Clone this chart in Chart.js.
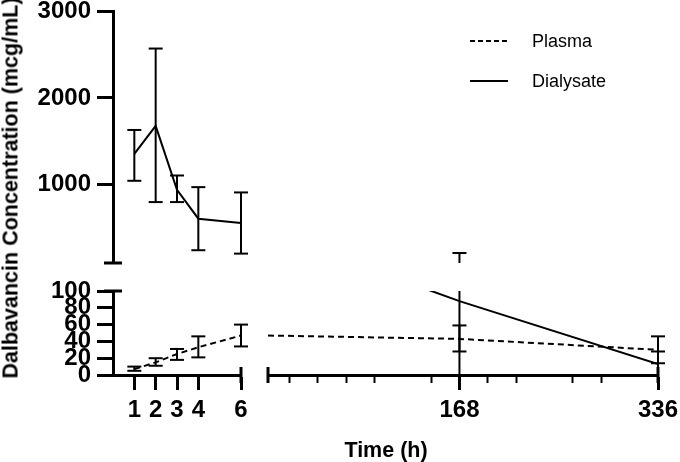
<!DOCTYPE html>
<html>
<head>
<meta charset="utf-8">
<script src="https://cdn.jsdelivr.net/npm/chart.js@4.4.1/dist/chart.umd.min.js"></script>
<style>
  html, body { margin: 0; padding: 0; background: #fff; overflow: hidden; }
  #wrap { position: relative; width: 680px; height: 462px; font-family: "Liberation Sans", Arial, sans-serif; color: #000; }
  #wrap canvas { position: absolute; }
  .title { position: absolute; font-weight: bold; font-size: 21.5px; white-space: nowrap; }
  #ytitle { left: 11px; top: 188px; transform: translate(-50%, -50%) rotate(-90deg); }
  #xtitle { left: 386px; top: 450px; transform: translate(-50%, -50%); }
  .leg { position: absolute; left: 470px; font-size: 18px; display: flex; align-items: center; height: 24px; }
  .leg .ln { width: 38px; height: 2px; margin-right: 24px; }
  .dash { background: repeating-linear-gradient(to right, #000 0 5px, transparent 5px 8px); }
  .solid { background: #000; }
</style>
</head>
<body>
<div id="wrap">
  <canvas id="upLeft"></canvas>
  <canvas id="lowLeft"></canvas>
  <canvas id="upRight"></canvas>
  <canvas id="lowRight"></canvas>
  <div class="title" id="ytitle">Dalbavancin Concentration (mcg/mL)</div>
  <div class="title" id="xtitle">Time (h)</div>
  <div class="leg" style="top:29px"><div class="ln dash"></div>Plasma</div>
  <div class="leg" style="top:69px"><div class="ln solid"></div>Dialysate</div>
</div>
<script>
// --- data ---
const hoursEarly = [1, 2, 3, 4, 6];
const hoursLate = [168, 336];

const plasmaEarly = [7, 15, 25, 33, 47];
const plasmaEarlyLow = [5, 11, 18, 21, 34];
const plasmaEarlyHigh = [10, 20, 31, 46, 60];
const plasmaLate = [43, 30];
const plasmaLateLow = [28, 14];
const plasmaLateHigh = [59, 46];

const dialysateEarly = [1356, 1677, 943, 610, 560];
const dialysateEarlyLow = [1046, 801, 801, 247, 208];
const dialysateEarlyHigh = [1631, 2568, 1107, 973, 912];
const dialysateLate = [88, 13];
const dialysateLateLow = [-40, -2];
const dialysateLateHigh = [215, 28];
// level the dialysate line carries across the x break (as drawn)
const dialysateBreakLevel = 170;

// axis ticks
const upperTicks = [1000, 2000, 3000];
const lowerTicks = [0, 20, 40, 60, 80, 100];
const earlyTicks = [1, 2, 3, 4, 6];
const lateTicks = [168, 336];
const lateMinorTicks = [24, 48, 72, 96, 144, 192, 216, 264, 288];

Chart.defaults.font.family = '"Liberation Sans", Arial, sans-serif';
Chart.defaults.color = '#000';

const M = 30;        // free margin round each plot area
const AXIS_W = 100;  // room for y tick labels
const AXIS_H = 60;   // room for x tick labels
const tickFont = { size: 24, weight: 'bold' };

function place(id, area, hasY, hasX) {
    const c = document.getElementById(id);
    const extraL = hasY ? AXIS_W : 0;
    const extraB = hasX ? AXIS_H : 0;
    c.width = area.right - area.left + 2 * M + extraL;
    c.height = area.bottom - area.top + 2 * M + extraB;
    c.style.left = (area.left - M - extraL) + 'px';
    c.style.top = (area.top - M) + 'px';
    return c.getContext('2d');
}

const fixSize = size => s => { if (s.isHorizontal()) s.height = size; else s.width = size; };
const useTicks = values => s => { s.ticks = values.map(v => ({ value: v })); };

function errorBars(xs, lows, highs) {
    const pts = [];
    xs.forEach((x, i) => pts.push({ x: x, y: lows[i] }, { x: x, y: highs[i] }, { x: x, y: null }));
    return pts;
}
const toPoints = (xs, ys) => xs.map((x, i) => ({ x: x, y: ys[i] }));

function errSet(data) {
    return {
        data: data, borderColor: '#000', borderWidth: 2, spanGaps: false,
        pointStyle: 'line', pointRadius: 7, pointBorderWidth: 2, pointBorderColor: '#000',
        clip: { left: 12, right: 12, top: 0, bottom: 0 }
    };
}
function lineSet(data, dashed) {
    return { data: data, borderColor: '#000', borderWidth: 2, pointRadius: 0, borderDash: dashed ? [6, 4] : [], tension: 0 };
}

// small caps drawn where the axes are broken
function breakCaps(cfg) {
    return {
        id: 'breakCaps',
        afterDraw(chart) {
            const ctx = chart.ctx, a = chart.chartArea;
            ctx.save();
            ctx.strokeStyle = '#000';
            ctx.lineWidth = 3;
            (cfg.y || []).forEach(v => {
                const py = chart.scales.y.getPixelForValue(v);
                ctx.beginPath(); ctx.moveTo(a.left - 9, py); ctx.lineTo(a.left + 9, py); ctx.stroke();
            });
            (cfg.x || []).forEach(v => {
                const px = chart.scales.x.getPixelForValue(v);
                ctx.beginPath(); ctx.moveTo(px, a.bottom - 8); ctx.lineTo(px, a.bottom + 8); ctx.stroke();
            });
            ctx.restore();
        }
    };
}

function axisY(min, max, ticks, show) {
    return {
        type: 'linear', min: min, max: max, display: show, afterFit: fixSize(show ? AXIS_W : 0), afterBuildTicks: useTicks(ticks),
        border: { color: '#000', width: 3 },
        grid: { drawOnChartArea: false, tickLength: 16, tickWidth: 3, tickColor: '#000' },
        ticks: { font: tickFont, padding: 6, autoSkip: false, callback: v => String(v) }
    };
}
function axisX(min, max, ticks, show) {
    return {
        type: 'linear', min: min, max: max, display: show, afterFit: fixSize(show ? AXIS_H : 0), afterBuildTicks: useTicks(ticks),
        border: { color: '#000', width: 3 },
        grid: { drawOnChartArea: false, tickLength: 15, tickWidth: 3, tickColor: '#000' },
        ticks: { font: tickFont, padding: 6, autoSkip: false, maxRotation: 0, callback: v => String(v) }
    };
}

function baseOptions(scales) {
    return {
        responsive: false, animation: false,
        layout: { padding: { left: M, right: M, top: M, bottom: M } },
        plugins: { legend: { display: false }, tooltip: { enabled: false } },
        scales: scales
    };
}

// upper left: dialysate, 1-6 h
new Chart(place('upLeft', { left: 113, top: 11, right: 241, bottom: 263 }, true, false), {
    type: 'line',
    data: { datasets: [
        lineSet(toPoints(hoursEarly, dialysateEarly), false),
        errSet(errorBars(hoursEarly, dialysateEarlyLow, dialysateEarlyHigh))
    ] },
    options: baseOptions({ x: axisX(0, 6, earlyTicks, false), y: axisY(100, 3000, upperTicks, true) }),
    plugins: [breakCaps({ y: [100] })]
});

// lower left: plasma, 1-6 h
new Chart(place('lowLeft', { left: 113, top: 291, right: 241, bottom: 375 }, true, true), {
    type: 'line',
    data: { datasets: [
        lineSet(toPoints(hoursEarly, plasmaEarly), true),
        errSet(errorBars(hoursEarly, plasmaEarlyLow, plasmaEarlyHigh))
    ] },
    options: baseOptions({ x: axisX(0, 6, earlyTicks, true), y: axisY(0, 100, lowerTicks, true) }),
    plugins: [breakCaps({ y: [100], x: [6] })]
});

// upper right: only the top of the 168 h dialysate bar reaches here
new Chart(place('upRight', { left: 268, top: 11, right: 658, bottom: 263 }, false, false), {
    type: 'line',
    data: { datasets: [errSet(errorBars(hoursLate, dialysateLateLow, dialysateLateHigh))] },
    options: baseOptions({ x: axisX(6, 336, lateTicks, false), y: axisY(100, 3000, upperTicks, false) })
});

// lower right: 168 and 336 h
const minorX = axisX(6, 336, lateMinorTicks, true);
minorX.afterFit = fixSize(0);
minorX.weight = -1;
minorX.position = 'bottom';
minorX.border = { display: false };
minorX.grid = { drawOnChartArea: false, tickLength: 8, tickWidth: 2, tickColor: '#000' };
minorX.ticks = { display: false };

new Chart(place('lowRight', { left: 268, top: 291, right: 658, bottom: 375 }, false, true), {
    type: 'line',
    data: { datasets: [
        lineSet([{ x: hoursEarly[4], y: plasmaEarly[4] }].concat(toPoints(hoursLate, plasmaLate)), true),
        lineSet([{ x: hoursEarly[4], y: dialysateBreakLevel }].concat(toPoints(hoursLate, dialysateLate)), false),
        errSet(errorBars(hoursLate, plasmaLateLow, plasmaLateHigh)),
        errSet(errorBars(hoursLate, dialysateLateLow, dialysateLateHigh))
    ] },
    options: baseOptions({ x: axisX(6, 336, lateTicks, true), xMinor: minorX, y: axisY(0, 100, lowerTicks, false) }),
    plugins: [breakCaps({ x: [6, 336] })]
});
</script>
</body>
</html>
